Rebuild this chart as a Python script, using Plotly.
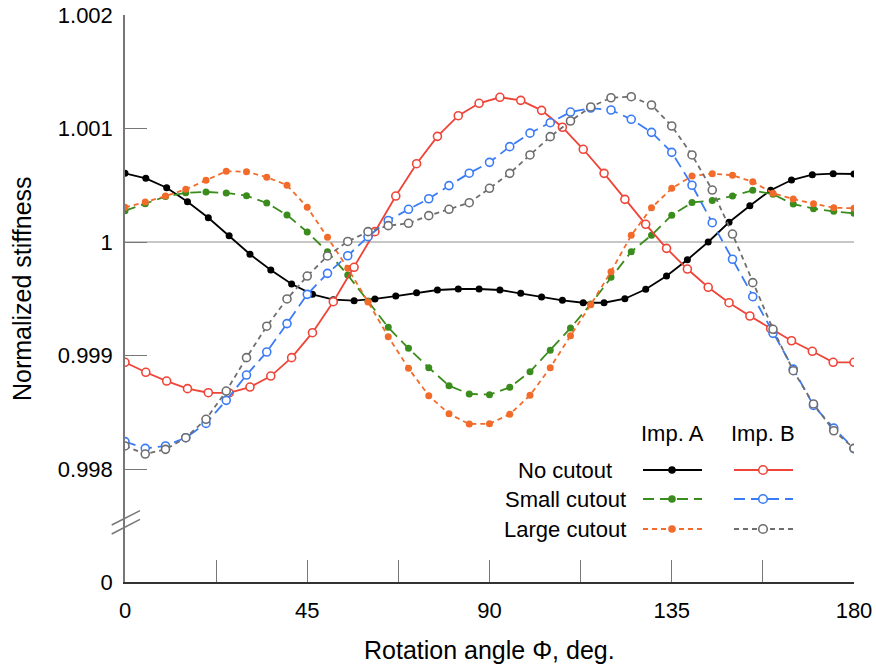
import plotly.graph_objects as go

# ---------------- data ----------------
# "No cutout" series sampled at 36 angles (0..180)
angles_36 = [0.00, 5.14, 10.29, 15.43, 20.57, 25.71, 30.86, 36.00, 41.14, 46.29,
             51.43, 56.57, 61.71, 66.86, 72.00, 77.14, 82.29, 87.43, 92.57, 97.71,
             102.86, 108.00, 113.14, 118.29, 123.43, 128.57, 133.71, 138.86, 144.00,
             149.14, 154.29, 159.43, 164.57, 169.71, 174.86, 180.00]
# cutout series sampled every 5 degrees
angles_37 = [0, 5, 10, 15, 20, 25, 30, 35, 40, 45, 50, 55, 60, 65, 70, 75, 80, 85,
             90, 95, 100, 105, 110, 115, 120, 125, 130, 135, 140, 145, 150, 155,
             160, 165, 170, 175, 180]

no_cut_A = [1.000605, 1.000561, 1.000478, 1.000355, 1.000214, 1.000056, 0.999892, 0.999753,
            0.999630, 0.999539, 0.999492, 0.999483, 0.999498, 0.999524, 0.999553, 0.999577,
            0.999586, 0.999586, 0.999577, 0.999548, 0.999515, 0.999486, 0.999465, 0.999465,
            0.999500, 0.999583, 0.999700, 0.999844, 1.000000, 1.000174, 1.000320, 1.000456,
            1.000546, 1.000593, 1.000602, 1.000599]
no_cut_B = [0.998940, 0.998852, 0.998775, 0.998708, 0.998672, 0.998670, 0.998722, 0.998819,
            0.998981, 0.999201, 0.999474, 0.999777, 1.000091, 1.000405, 1.000690, 1.000931,
            1.001113, 1.001222, 1.001275, 1.001248, 1.001160, 1.001011, 1.000817, 1.000605,
            1.000376, 1.000156, 0.999944, 0.999762, 0.999601, 0.999465, 0.999348, 0.999236,
            0.999130, 0.999037, 0.998940, 0.998940]
small_cut_A = [1.000276, 1.000338, 1.000400, 1.000434, 1.000441, 1.000432, 1.000408, 1.000344,
               1.000238, 1.000088, 0.999915, 0.999709, 0.999480, 0.999248, 0.999063, 0.998893,
               0.998734, 0.998661, 0.998655, 0.998720, 0.998857, 0.999046, 0.999242, 0.999454,
               0.999690, 0.999915, 1.000060, 1.000236, 1.000348, 1.000365, 1.000406, 1.000455,
               1.000420, 1.000334, 1.000294, 1.000270, 1.000253]
large_cut_A = [1.000306, 1.000352, 1.000405, 1.000464, 1.000544, 1.000623, 1.000620, 1.000571,
               1.000501, 1.000306, 1.000041, 0.999768, 0.999472, 0.999166, 0.998887, 0.998646,
               0.998487, 0.998396, 0.998399, 0.998482, 0.998649, 0.998893, 0.999174, 0.999448,
               0.999739, 1.000059, 1.000302, 1.000473, 1.000581, 1.000602, 1.000588, 1.000531,
               1.000429, 1.000379, 1.000337, 1.000302, 1.000297]
small_cut_B = [0.998241, 0.998182, 0.998203, 0.998276, 0.998402, 0.998605, 0.998828, 0.999031,
               0.999281, 0.999539, 0.999724, 0.999879, 1.000047, 1.000190, 1.000288, 1.000381,
               1.000497, 1.000606, 1.000702, 1.000840, 1.000959, 1.001051, 1.001145, 1.001180,
               1.001163, 1.001081, 1.000966, 1.000790, 1.000500, 1.000170, 0.999848, 0.999518,
               0.999195, 0.998880, 0.998560, 0.998360, 0.998180]
large_cut_B = [0.998203, 0.998132, 0.998173, 0.998276, 0.998438, 0.998687, 0.998981, 0.999258,
               0.999498, 0.999700, 0.999877, 1.000005, 1.000091, 1.000144, 1.000165, 1.000232,
               1.000288, 1.000346, 1.000473, 1.000605, 1.000767, 1.000928, 1.001066, 1.001190,
               1.001271, 1.001280, 1.001207, 1.001022, 1.000767, 1.000458, 1.000070, 0.999642,
               0.999231, 0.998866, 0.998573, 0.998337, 0.998182]

y_ticks = [0.998, 0.999, 1.0, 1.001, 1.002]
y_tick_text = ["0.998", "0.999", "1", "1.001", "1.002"]
x_ticks = [0, 22.5, 45, 67.5, 90, 112.5, 135, 157.5, 180]
x_tick_text = ["0", "", "45", "", "90", "", "135", "", "180"]
lower_ticks = [0]
lower_tick_text = ["0"]
row_labels = ["No cutout", "Small cutout", "Large cutout"]
col_labels = ["Imp. A", "Imp. B"]
reference_level = 1.0

# ---------------- styles ----------------
FONT = "Liberation Sans, Arial, Helvetica, sans-serif"
BLACK = "#000000"
RED = "#EF4438"
GREEN = "#3A8C1C"
ORANGE = "#F26B2A"
BLUE = "#3B7BF6"
GRAY = "#6E6E6E"

series = [
    # (x, y, color, dash, filled)
    (angles_36, no_cut_A, BLACK, "solid", True),
    (angles_37, small_cut_A, GREEN, "11px,6px", True),
    (angles_37, large_cut_A, ORANGE, "5px,4px", True),
    (angles_36, no_cut_B, RED, "solid", False),
    (angles_37, small_cut_B, BLUE, "11px,6px", False),
    (angles_37, large_cut_B, GRAY, "5px,4px", False),
]

fig = go.Figure()
for x, y, color, dash, filled in series:
    if filled:
        marker = dict(symbol="circle", size=7, color=color, line=dict(width=0))
    else:
        marker = dict(symbol="circle", size=8, color="white", line=dict(width=1.6, color=color))
    fig.add_trace(go.Scatter(x=x, y=y, mode="lines+markers", xaxis="x", yaxis="y",
                             line=dict(color=color, width=1.8, dash=dash),
                             marker=marker, showlegend=False, hoverinfo="skip"))
# empty trace so that the lower (broken-axis) segment exists as a subplot
fig.add_trace(go.Scatter(x=[], y=[], xaxis="x", yaxis="y2", showlegend=False,
                         hoverinfo="skip"))

W, H = 876, 667
ML, MR, MT, MB = 125, 22, 15, 85
PW, PH = W - ML - MR, H - MT - MB
BREAK = 0.1058


def px(xp):
    return (xp - ML) / PW


def py(yp):
    return (H - MB - yp) / PH


tickfont = dict(family=FONT, size=22, color="black")

fig.update_layout(
    width=W, height=H,
    margin=dict(l=ML, r=MR, t=MT, b=MB, autoexpand=False),
    paper_bgcolor="white", plot_bgcolor="white",
    showlegend=False,
    xaxis=dict(range=[0, 180], anchor="y2", tickmode="array", tickvals=x_ticks,
               ticktext=x_tick_text, ticks="inside", ticklen=22, tickwidth=1.2,
               tickcolor="#777777", showline=True, linecolor="#333333", linewidth=1.5,
               showgrid=False, zeroline=False, tickfont=tickfont, ticklabelstandoff=8),
    yaxis=dict(domain=[BREAK, 1], range=[0.997533, 1.002], anchor="x", tickmode="array",
               tickvals=y_ticks, ticktext=y_tick_text, ticks="inside", ticklen=22,
               tickwidth=1.2, tickcolor="#777777", showline=True, linecolor="#777777",
               linewidth=1.5, showgrid=False, zeroline=False, tickfont=tickfont,
               ticklabelstandoff=6),
    yaxis2=dict(domain=[0, BREAK], range=[0, 1], anchor="x", tickmode="array",
                tickvals=lower_ticks, ticktext=lower_tick_text, ticks="", showline=True,
                linecolor="#777777", linewidth=1.5, showgrid=False, zeroline=False,
                tickfont=tickfont, ticklabelstandoff=6),
)

shapes = []
# reference line at 1
shapes.append(dict(type="line", xref="x", yref="y", x0=0, x1=180, y0=reference_level,
                   y1=reference_level, line=dict(color="#B4B4B4", width=1.3), layer="below"))
# axis break marks
for (ya, yb) in [(525, 510.7), (534, 519.3)]:
    shapes.append(dict(type="line", xref="paper", yref="paper", x0=px(111.7), x1=px(140),
                       y0=py(ya), y1=py(yb), line=dict(color="#777777", width=1.5)))

# custom legend
row_y = [470, 499, 529]
col_x = [(643, 702, 672), (734, 793, 763)]
legend_style = [
    [(BLACK, "solid", True), (RED, "solid", False)],
    [(GREEN, "11px,6px", True), (BLUE, "11px,6px", False)],
    [(ORANGE, "5px,4px", True), (GRAY, "5px,4px", False)],
]
annotations = []
for r, yy in enumerate(row_y):
    annotations.append(dict(text=row_labels[r], xref="paper", yref="paper", x=px(565),
                            y=py(yy), xanchor="center", yanchor="middle", showarrow=False,
                            font=dict(family=FONT, size=22, color="black")))
    for c, (x0, x1, xm) in enumerate(col_x):
        color, dash, filled = legend_style[r][c]
        shapes.append(dict(type="line", xref="paper", yref="paper", x0=px(x0), x1=px(x1),
                           y0=py(yy), y1=py(yy), line=dict(color=color, width=1.8, dash=dash)))
        rad = 3.8 if filled else 4.3
        shapes.append(dict(type="circle", xref="paper", yref="paper", xsizemode="pixel",
                           ysizemode="pixel", xanchor=px(xm), yanchor=py(yy), x0=-rad, x1=rad,
                           y0=-rad, y1=rad, fillcolor=color if filled else "white",
                           line=dict(color=color, width=0 if filled else 1.6)))
for c, (x0, x1, xm) in enumerate(col_x):
    annotations.append(dict(text=col_labels[c], xref="paper", yref="paper", x=px(xm),
                            y=py(433), xanchor="center", yanchor="middle", showarrow=False,
                            font=dict(family=FONT, size=22, color="black")))

annotations.append(dict(text="Rotation angle Φ, deg.", xref="paper", yref="paper", x=0.5,
                        y=py(650), xanchor="center", yanchor="middle", showarrow=False,
                        font=dict(family=FONT, size=25, color="black")))
annotations.append(dict(text="Normalized stiffness", xref="paper", yref="paper", x=px(22),
                        y=py(288), xanchor="center", yanchor="middle", textangle=-90,
                        showarrow=False, font=dict(family=FONT, size=25, color="black")))

fig.update_layout(shapes=shapes, annotations=annotations)
fig.write_html("out.html")
